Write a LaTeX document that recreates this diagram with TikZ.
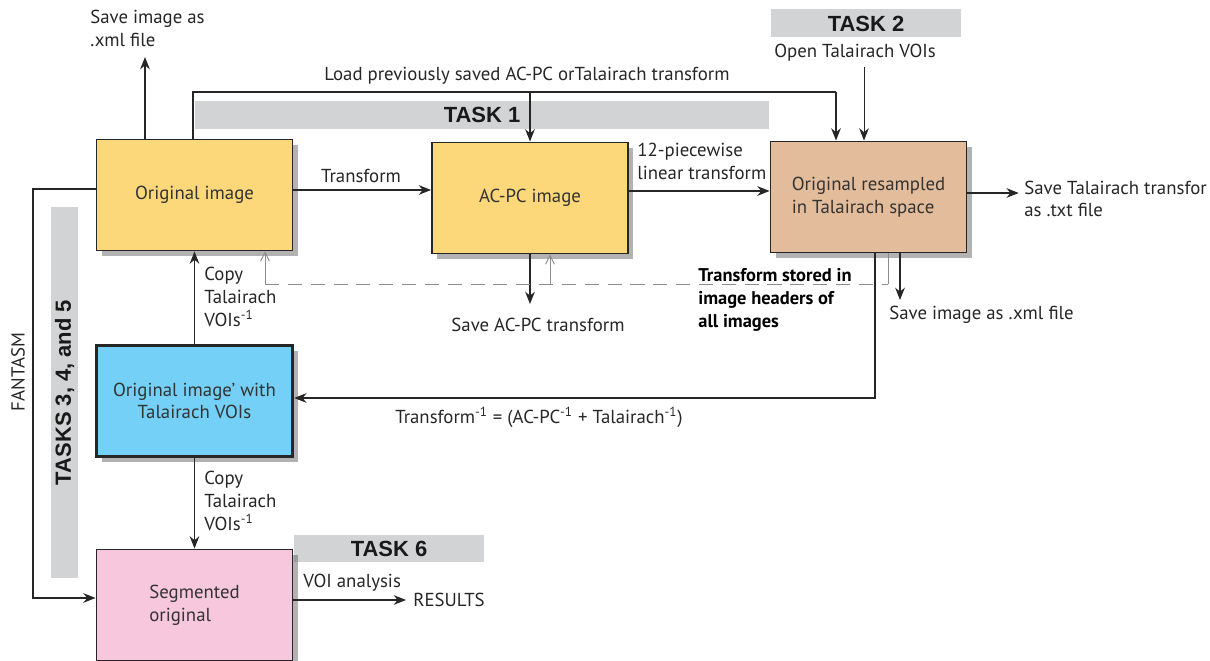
\documentclass[tikz,border=0pt]{standalone}
\usepackage{fontspec}
\setmainfont{PT Sans}
\newfontfamily\taskfont{Liberation Sans}
\usetikzlibrary{arrows.meta,shadows}
\definecolor{boxyellow}{HTML}{FDD87A}
\definecolor{boxtan}{HTML}{E3BD9B}
\definecolor{boxblue}{HTML}{74D0F6}
\definecolor{boxpink}{HTML}{F6C7DD}
\definecolor{bargray}{HTML}{D2D3D5}

\tikzset{
  imgbox/.style={draw=black!85, line width=1.1pt, minimum width=3.92cm,
    minimum height=2.22cm, inner sep=0, align=center, text=black!80,
    drop shadow={shadow xshift=3pt, shadow yshift=-3pt, fill=black!60, opacity=.5}},
  taskbar/.style={fill=bargray, inner sep=0, minimum height=0.56cm,
    font=\taskfont\bfseries\fontsize{12.5}{14}\selectfont, text=black!90},
  flow/.style={draw=black!85, line width=0.8pt, -{Stealth[length=7pt,width=5.5pt]}},
  plain/.style={draw=black!85, line width=0.8pt},
  stored/.style={draw=black!45, line width=0.5pt, dashed, dash pattern=on 8pt off 5pt},
  storedflow/.style={draw=black!45, line width=0.5pt, -{Straight Barb[length=5pt,width=5pt]}},
  lbl/.style={inner sep=0, align=left, anchor=north west, text=black!85}
}

\begin{document}
\begin{tikzpicture}[x=0.02cm, y=-0.02cm, font=\fontsize{10.7}{13}\selectfont]
\useasboundingbox (0,0) rectangle (1210,661);

% task bars
\node[taskbar, minimum width=11.5cm] (task1) at (482,115) {TASK 1};
\node[taskbar, minimum width=3.8cm] (task2) at (866,23.5) {TASK 2};
\node[taskbar, minimum width=3.8cm] (task6) at (389,548.5) {TASK 6};
\node[taskbar, minimum width=7.42cm, minimum height=0.54cm, rotate=90] (task345) at (64.5,392.5) {TASKS 3, 4, and 5};

% images
\node[imgbox, fill=boxyellow] (orig) at (194.5,195) {Original image};
\node[imgbox, fill=boxyellow] (acpc) at (530,198) {AC-PC image};
\node[imgbox, fill=boxtan, align=left] (resamp) at (868.5,197) {Original resampled\\in Talairach space};
\node[imgbox, fill=boxblue, line width=2pt] (voi) at (194.5,401) {Original image' with\\Talairach VOIs};
\node[imgbox, fill=boxpink, align=left] (seg) at (194.5,605) {Segmented\\original};

% labels
\node[lbl] (savexml) at (90,10) {Save image as\\.xml file};
\node[lbl, anchor=center] (loadlbl) at (527,76) {Load previously saved AC-PC orTalairach transform};
\node[lbl, anchor=center] (openvoi) at (855,53) {Open Talairach VOIs};
\node[lbl, anchor=south] (trlbl) at (361,183) {Transform};
\node[lbl] (piecelbl) at (637,143) {12-piecewise\\linear transform};
\node[lbl, anchor=west] (savetal) at (1024,199) {Save Talairach transfor\\as .txt file};
\node[lbl, anchor=west] (savexml2) at (889,315) {Save image as .xml file};
\node[lbl, anchor=center] (saveacpc) at (538,325) {Save AC-PC transform};
\node[lbl, text=black, font=\bfseries\fontsize{10.5}{13}\selectfont] (storedlbl) at (698,268) {Transform stored in\\image headers of\\all images};
\node[lbl, anchor=center] (invlbl) at (539,417) {Transform\textsuperscript{-1} = (AC-PC\textsuperscript{-1} + Talairach\textsuperscript{-1})};
\node[lbl] (copyup) at (204,267) {Copy\\Talairach\\VOIs\textsuperscript{-1}};
\node[lbl] (copydown) at (204,471) {Copy\\Talairach\\VOIs\textsuperscript{-1}};
\node[lbl, anchor=center, rotate=90] (fantasm) at (18,372) {FANTASM};
\node[lbl, anchor=south west] (voilbl) at (303,592) {VOI analysis};
\node[lbl, anchor=west] (results) at (413,600) {RESULTS};

% connectors
\coordinate (xmltop) at (145,57);
\draw[flow] (orig.north -| xmltop) -- (xmltop);
\coordinate (loadA) at (193,92);
\coordinate (loadB) at (836,92);
\draw[plain] (orig.north -| loadA) -- (loadA) -- (loadB);
\draw[flow] (loadB) -- (resamp.north -| loadB);
\draw[flow] (loadA -| acpc.north) -- (acpc.north);
\coordinate (openv) at (864,67);
\draw[flow, line width=0.5pt] (openv) -- (resamp.north -| openv);
\draw[flow] (orig.east |- 0,190) -- (acpc.west |- 0,190);
\draw[flow] (acpc.east |- 0,191) -- (resamp.west |- 0,191);
\draw[flow, line width=0.6pt] (resamp.east |- 0,193) -- ([xshift=-3pt]savetal.west |- 0,193);
\coordinate (xmlright) at (900,300);
\draw[flow] (resamp.south -| xmlright) -- (xmlright);
\coordinate (acpcsave) at (530,304);
\draw[flow] (acpc.south) -- (acpcsave);
\coordinate (invA) at (875,398);
\draw[flow, line width=0.6pt] (resamp.south -| invA) -- (invA) -- (voi.east |- invA);
\coordinate (storedA) at (265,284);
\coordinate (storedB) at (550,284);
\coordinate (storedC) at (888,284);
\draw[stored] (storedA) -- (storedC);
\draw[storedflow, -] (storedC) -- (resamp.south -| storedC);
\draw[storedflow] (storedA) -- (orig.south -| storedA);
\draw[storedflow] (storedB) -- (acpc.south -| storedB);
\draw[flow] (voi.north) -- (orig.south);
\draw[flow] (voi.south) -- (seg.north);
\coordinate (fanA) at (33,189);
\coordinate (fanB) at (33,598);
\draw[flow] (orig.west |- fanA) -- (fanA) -- (fanB) -- (seg.west |- fanB);
\draw[flow, line width=0.6pt] (seg.east |- results.west) -- ([xshift=-4pt]results.west);
\end{tikzpicture}
\end{document}
